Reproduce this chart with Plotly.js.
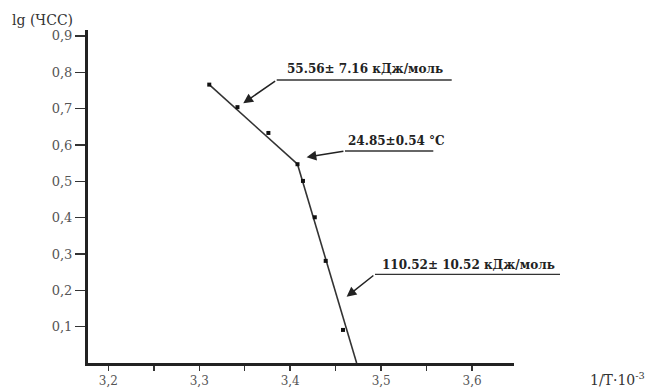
<!DOCTYPE html>
<html><head><meta charset="utf-8">
<script src="https://cdn.plot.ly/plotly-3.0.1.min.js"></script>
<style>body{margin:0;background:#fff}#c{width:660px;height:389px}</style>
</head><body><div id="c"></div>
<script>
// measured points: 1/T·10^-3 vs lg(ЧСС)
const invT = [3.311, 3.342, 3.376, 3.408, 3.414, 3.427, 3.439, 3.458];
const lgHR = [0.766, 0.704, 0.633, 0.547, 0.501, 0.401, 0.281, 0.091];
// fitted lines (two regimes)
const fit1X = [3.311, 3.408];
const fit1Y = [0.766, 0.547];
const fit2X = [3.408, 3.473];
const fit2Y = [0.547, 0.0];
// tick labels
const xTickVals = [3.2, 3.25, 3.3, 3.35, 3.4, 3.45, 3.5, 3.55, 3.6];
const xTickText = ["3,2", "", "3,3", "", "3,4", "", "3,5", "", "3,6"];
const yTickVals = [0.1, 0.2, 0.3, 0.4, 0.5, 0.6, 0.7, 0.8, 0.9];
const yTickText = ["0,1", "0,2", "0,3", "0,4", "0,5", "0,6", "0,7", "0,8", "0,9"];
// annotation labels and the points they point at
const labelTexts = ["55.56± 7.16 кДж/моль", "24.85±0.54 °C", "110.52± 10.52 кДж/моль"];
const arrowTipX = [3.3484, 3.418, 3.462];
const arrowTipY = [0.7147, 0.5664, 0.1824];

// layout geometry (pixels)
const L = 88, R = 514, T = 30, B = 363;
const px = x => (x - L) / (R - L);
const py = y => (B - y) / (B - T);
const FONT = "DejaVu Serif";

const tails = [[276.7, 80], [345, 151], [375, 274.3]];
const ulineEnd = [451.7, 433.3, 560];
const textPos = [[365, 68.5], [396.5, 141], [468, 265]];

const annotations = [];
const shapes = [];
for (let i = 0; i < 3; i++) {
  const tipPx = [108.3 + (arrowTipX[i] - 3.2) * 910, 363 - arrowTipY[i] * 363.4];
  annotations.push({
    x: arrowTipX[i], y: arrowTipY[i], xref: 'x', yref: 'y',
    ax: tails[i][0] - tipPx[0], ay: tails[i][1] - tipPx[1],
    text: '', showarrow: true, arrowhead: 2, arrowsize: 1.3, arrowwidth: 1.5,
    arrowcolor: '#222', standoff: 0, startstandoff: 0
  });
  shapes.push({
    type: 'line', xref: 'paper', yref: 'paper',
    x0: px(tails[i][0]), x1: px(ulineEnd[i]), y0: py(tails[i][1]), y1: py(tails[i][1]),
    line: {color: '#333', width: 1.3}
  });
  annotations.push({
    x: px(textPos[i][0]), y: py(textPos[i][1]), xref: 'paper', yref: 'paper',
    xanchor: 'center', yanchor: 'middle', showarrow: false,
    text: '<b>' + labelTexts[i] + '</b>',
    font: {family: FONT, size: 12, color: '#222'}
  });
}
// axis titles
annotations.push({
  x: px(10), y: py(20), xref: 'paper', yref: 'paper', xanchor: 'left', yanchor: 'middle',
  showarrow: false, text: 'lg (ЧСС)', font: {family: FONT, size: 14, color: '#333'}
});
annotations.push({
  x: px(588), y: py(379), xref: 'paper', yref: 'paper', xanchor: 'left', yanchor: 'middle',
  showarrow: false, text: '1/T·10<sup>-3</sup>', font: {family: FONT, size: 14, color: '#333'}
});

const data = [
  {x: fit1X, y: fit1Y, mode: 'lines', line: {color: '#333', width: 1.6}, hoverinfo: 'skip'},
  {x: fit2X, y: fit2Y, mode: 'lines', line: {color: '#333', width: 1.6}, hoverinfo: 'skip'},
  {x: invT, y: lgHR, mode: 'markers', marker: {symbol: 'square', size: 4, color: '#111'}}
];

const layout = {
  width: 660, height: 389,
  margin: {l: L, r: 660 - R, t: T, b: 389 - B},
  paper_bgcolor: '#fff', plot_bgcolor: '#fff',
  showlegend: false,
  font: {family: FONT, color: '#444'},
  xaxis: {
    range: [3.1777, 3.646], tickvals: xTickVals, ticktext: xTickText,
    showgrid: false, zeroline: false, showline: true, linecolor: '#222', linewidth: 3,
    ticks: 'outside', ticklen: 5, tickwidth: 1.5, tickcolor: '#333',
    tickfont: {family: FONT, size: 12, color: '#555'}
  },
  yaxis: {
    range: [0, 0.9163], tickvals: yTickVals, ticktext: yTickText,
    showgrid: false, zeroline: false, showline: true, linecolor: '#222', linewidth: 3,
    ticks: 'outside', ticklen: 10, tickwidth: 1.5, tickcolor: '#333',
    tickfont: {family: FONT, size: 13, color: '#555'}
  },
  annotations: annotations,
  shapes: shapes
};
Plotly.newPlot('c', data, layout, {staticPlot: true, displayModeBar: false});
</script></body></html>
